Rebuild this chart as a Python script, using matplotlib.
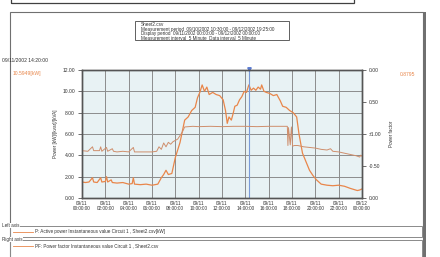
import numpy as np
import matplotlib
matplotlib.use("Agg")
import matplotlib.pyplot as plt
from matplotlib.patches import Rectangle

plt.rcParams['font.family'] = ['Liberation Sans', 'DejaVu Sans']

# active power P [kW], hours from 09/11 00:00
p_hours = [0.0, 0.3, 0.6, 0.9, 1.0, 1.3, 1.6, 1.7, 2.0, 2.1, 2.2, 2.5, 2.6, 3.0, 3.5,
           4.0, 4.3, 4.4, 4.5, 5.0, 5.5, 6.0, 6.5, 6.8, 7.0, 7.2, 7.4, 7.7, 8.0, 8.4,
           8.8, 9.1, 9.4, 9.7, 9.9, 10.1, 10.3, 10.5, 10.7, 10.9, 11.2, 11.5, 11.8, 12.1,
           12.3, 12.45, 12.6, 12.8, 12.95, 13.1, 13.3, 13.5, 13.7, 13.9, 14.1, 14.3, 14.5,
           14.7, 14.9, 15.1, 15.3, 15.4, 15.6, 15.8, 16.1, 16.4, 16.7, 17.0, 17.2, 17.5,
           17.8, 18.1, 18.4, 18.6, 18.9, 19.2, 19.5, 19.8, 20.1, 20.5, 21.0, 21.5, 22.0,
           22.5, 23.0, 23.3, 23.6, 23.8, 24.0]
p_kw = [1.5, 1.45, 1.5, 1.9, 1.5, 1.45, 1.9, 1.5, 1.55, 2.0, 1.5, 1.7, 1.45, 1.4, 1.45,
        1.3, 1.35, 1.9, 1.3, 1.25, 1.3, 1.2, 1.3, 1.9, 2.2, 2.6, 2.2, 2.3, 3.8, 5.2,
        7.3, 7.6, 8.2, 8.5, 9.4, 9.9, 10.6, 10.0, 10.4, 9.7, 9.9, 9.7, 9.6, 9.2,
        8.2, 7.0, 7.6, 7.3, 7.9, 8.6, 8.7, 9.2, 9.5, 10.0, 9.9, 10.6, 10.1,
        10.3, 10.1, 10.4, 10.2, 10.6, 10.0, 9.9, 9.8, 9.6, 9.7, 9.1, 8.6, 8.5,
        8.2, 8.0, 7.6, 6.0, 4.2, 3.4, 2.6, 2.1, 1.7, 1.3, 1.2, 1.15, 1.2,
        1.1, 0.9, 0.8, 0.7, 0.75, 0.85]

# power factor PF (lead +, lag -)
pf_hours = [0.0, 0.5, 0.9, 1.0, 1.5, 1.6, 1.7, 2.1, 2.2, 2.6, 2.7, 3.0, 3.5, 4.0, 4.4, 4.5,
            5.0, 5.5, 6.0, 6.4, 6.6, 6.8, 7.0, 7.2, 7.4, 7.6, 7.8, 8.2, 8.6, 8.8, 9.5,
            10.0, 11.0, 12.0, 13.0, 14.0, 15.0, 16.0, 17.0, 17.5, 17.6, 17.65, 17.7,
            17.85, 17.95, 18.05, 18.2, 18.5, 19.0, 19.5, 20.0, 20.5, 21.0, 21.3, 21.5,
            22.0, 22.5, 23.0, 23.5, 23.8, 23.9, 24.0]
pf = [-0.74, -0.73, -0.80, -0.74, -0.74, -0.80, -0.73, -0.79, -0.73, -0.77, -0.73, -0.72,
      -0.73, -0.72, -0.79, -0.72, -0.72, -0.72, -0.72, -0.73, -0.80, -0.76, -0.86, -0.80,
      -0.87, -0.84, -0.88, -0.92, 0.97, 0.89, 0.88, 0.885, 0.88, 0.885, 0.88, 0.88,
      0.885, 0.88, 0.88, 0.88, 0.88, -0.82, 0.90, -0.83, 0.89, -0.81, -0.82, -0.82,
      -0.80, -0.79, -0.78, -0.76, -0.75, -0.77, -0.73, -0.72, -0.70, -0.68, -0.66,
      -0.64, -0.67, -0.65]

x_ticks = list(range(0, 25, 2))
x_labels = ["09/11\n%02d:00:00" % h for h in range(0, 24, 2)] + ["09/12\n00:00:00"]
left_ticks = [0, 2, 4, 6, 8, 10, 12]
right_labels = ["0.00", "-0.50", "\u00b11.00", "0.50", "0.00"]

W, H = 440, 257
fig = plt.figure(figsize=(W / 100, H / 100), dpi=100)
fig.patch.set_facecolor("white")

def fx(x):
    return x / W

def fy(y):
    return 1 - y / H

fs = 3.6
# window frames
fig.patches.append(Rectangle((fx(11), fy(3)), fx(343), 10 / H, transform=fig.transFigure,
                             fill=False, ec="#404040", lw=0.9))
fig.patches.append(Rectangle((fx(10), fy(270)), fx(413), 258 / H, transform=fig.transFigure,
                             fill=False, ec="#707070", lw=0.8))
fig.patches.append(Rectangle((fx(423), fy(270)), fx(3), 258 / H, transform=fig.transFigure,
                             fc="#707070", ec="none"))
# header box
fig.patches.append(Rectangle((fx(135), fy(40)), fx(154), 19 / H, transform=fig.transFigure,
                             fill=False, ec="#606060", lw=0.7))
header = ["Sheet2.csv",
          "Measurement period  09/10/2002 10:30:00 - 09/12/2002 19:25:00",
          "Display period  09/11/2002 00:00:00 - 09/12/2002 00:00:00",
          "Measurement interval  5 Minute  Data interval  5 Minute"]
for i, line in enumerate(header):
    fig.text(fx(141), fy(24.5 + i * 4.5), line, fontsize=fs - 0.3, va="center", color="#333333")

fig.text(fx(2), fy(61), "09/11/2002 14:20:00", fontsize=fs, va="center", color="#333333")
fig.text(fx(13), fy(74), "10.5949[kW]", fontsize=fs, va="center", color="#e8864a")
fig.text(fx(400), fy(74), "0.8795", fontsize=fs, va="center", color="#e8864a")

ax = fig.add_axes([fx(82), fy(198), fx(280), 128 / H])
ax.set_facecolor("#e8f2f4")
ax.plot(p_hours, p_kw, color="#e8864a", lw=0.9)
ax.set_xlim(0, 24)
ax.set_ylim(0, 12)
ax.set_xticks(x_ticks)
ax.set_xticklabels(x_labels, fontsize=fs - 0.2, color="#333333", linespacing=1.1)
ax.set_yticks(left_ticks)
ax.set_yticklabels(["%.2f" % v for v in left_ticks], fontsize=fs, color="#333333")
ax.tick_params(axis="x", length=0, pad=2)
ax.tick_params(axis="y", length=3, width=0.6, color="#555555", pad=2)
ax.grid(True, color="#8c8c8c", lw=0.7)
ax.set_axisbelow(True)
for s in ax.spines.values():
    s.set_color("#555555")
    s.set_linewidth(1.0)
ax.set_ylabel("Power [kW]/[kvar]/[kVA]", fontsize=fs - 0.3, color="#333333", labelpad=3)

ax2 = ax.twinx()
# lead values on the upper half, lag values on the lower half
pf_arr = np.array(pf)
pf_pos = np.where(pf_arr >= 0, 2 - pf_arr, -pf_arr)
ax2.plot(pf_hours, pf_pos, color="#cf8e6c", lw=0.7)
ax2.set_ylim(0, 2)
ax2.set_yticks([0, 0.5, 1, 1.5, 2])
ax2.set_yticklabels(right_labels, fontsize=fs, color="#333333")
ax2.tick_params(axis="y", length=3, width=0.6, color="#555555", pad=2)
for s in ax2.spines.values():
    s.set_color("#555555")
    s.set_linewidth(1.0)
ax2.set_ylabel("Power factor", fontsize=fs - 0.3, color="#333333", labelpad=5)

# cursor
ax.axvline(14 + 20 / 60, color="#7a9ad8", lw=0.8)
ax.plot([14 + 20 / 60], [12.1], marker="v", color="#5a7ad0", ms=2.5, clip_on=False)

# legend group boxes
for top, bottom, title, text in [
        (225.5, 237, "Left axis", "P: Active power Instantaneous value Circuit 1 , Sheet2.csv[kW]"),
        (239.5, 262, "Right axis", "PF: Power factor Instantaneous value Circuit 1 , Sheet2.csv")]:
    fig.patches.append(Rectangle((fx(10), fy(bottom)), fx(412), (bottom - top) / H,
                                 transform=fig.transFigure, fill=False, ec="#8a8a8a", lw=0.7))
    fig.text(fx(2), fy(top), title, fontsize=fs - 0.3, va="center", color="#333333",
             bbox=dict(fc="white", ec="none", pad=0.3))
    fig.lines.append(plt.Line2D([fx(13), fx(33)], [fy(top + 6.5)] * 2,
                                transform=fig.transFigure, color="#e8864a", lw=0.6))
    fig.text(fx(35), fy(top + 6.5), text, fontsize=fs - 0.3, va="center", color="#333333")

fig.savefig("out.png", dpi=100)
